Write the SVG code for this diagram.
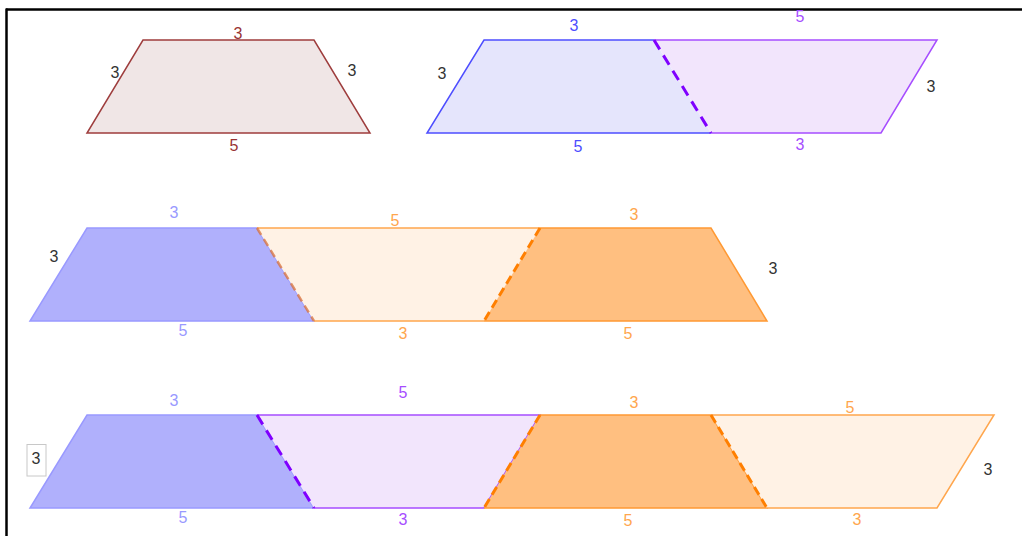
<svg xmlns="http://www.w3.org/2000/svg" width="1022" height="536" viewBox="0 0 1022 536">
<style>
text{font-family:"Liberation Sans",Arial,sans-serif;font-size:16px;text-anchor:middle}
.k{fill:#333333}
.r{fill:#993333}
.b{fill:#4d4dff}
.p{fill:#a64dff}
.lb{fill:#9999ff}
.o{fill:#ffa64d}
.dp{stroke:#7f00ff;stroke-width:3;stroke-dasharray:11 7;fill:none}
.do{stroke:#ff7f00;stroke-width:3;stroke-dasharray:9 5;fill:none}
.dbr{stroke:#d9733a;stroke-opacity:0.75;stroke-width:2.5;stroke-dasharray:8 5;fill:none}
</style>
<rect x="0" y="0" width="1022" height="536" fill="#ffffff"/>
<g id="frame" stroke="#000" stroke-width="2.5" fill="none">
<line x1="6" y1="9.5" x2="1022" y2="9.5"/>
<line x1="6.5" y1="8.5" x2="6.5" y2="536"/>
</g>

<g id="trap-top-left">
<polygon points="143,40 314,40 370,133 87,133" fill="#f0e6e6" stroke="#9e3d3d" stroke-width="1.5"/>
<text class="r" x="238" y="39">3</text>
<text class="k" x="115" y="78">3</text>
<text class="k" x="352" y="76">3</text>
<text class="r" x="234" y="151">5</text>
</g>

<g id="top-right-blue">
<polygon points="484,40 654,40 711,133 427,133" fill="#e5e5fc"/>
<polyline points="654,40 484,40 427,133 711,133" fill="none" stroke="#4d4dff" stroke-width="1.5"/>
<text class="b" x="574" y="31">3</text>
<text class="k" x="442" y="79">3</text>
<text class="b" x="578" y="152">5</text>
</g>
<g id="top-right-purple">
<polygon points="654,40 937,40 881,133 711,133" fill="#f2e5fc"/>
<polyline points="654,40 937,40 881,133 711,133" fill="none" stroke="#a64dff" stroke-width="1.5"/>
<text class="p" x="800" y="22">5</text>
<text class="k" x="931" y="92">3</text>
<text class="p" x="800" y="150">3</text>
</g>

<g id="mid-blue">
<polygon points="87,228 257,228 314,321 30,321" fill="#b0b0fc" stroke="#9999ff" stroke-width="1.5"/>
<text class="lb" x="174" y="218">3</text>
<text class="k" x="54" y="262">3</text>
<text class="lb" x="183" y="336">5</text>
</g>
<g id="mid-lightorange">
<polygon points="257,228 540,228 484,321 314,321" fill="#fff2e5"/>
<line x1="257" y1="228" x2="540" y2="228" stroke="#ffa64d" stroke-width="1.5"/>
<line x1="314" y1="321" x2="484" y2="321" stroke="#ffa64d" stroke-width="1.5"/>
<text class="o" x="395" y="226">5</text>
<text class="o" x="403" y="339">3</text>
</g>
<g id="mid-orange">
<polygon points="540,228 711,228 767,321 484,321" fill="#ffbf80"/>
<polyline points="540,228 711,228 767,321 484,321" fill="none" stroke="#ff9933" stroke-width="1.5"/>
<text class="o" x="634" y="220">3</text>
<text class="k" x="773" y="274">3</text>
<text class="o" x="628" y="339">5</text>
</g>

<g id="bot-blue">
<polygon points="87,415 257,415 314,508 30,508" fill="#b0b0fc" stroke="#9999ff" stroke-width="1.5"/>
<text class="lb" x="174" y="406">3</text>
<rect x="27" y="444.5" width="19" height="31.5" fill="#ffffff" stroke="#c8c8c8" stroke-width="1"/>
<text class="k" x="36" y="464">3</text>
<text class="lb" x="183" y="523">5</text>
</g>
<g id="bot-purple">
<polygon points="257,415 540,415 484,508 314,508" fill="#f2e5fc"/>
<polyline points="257,415 540,415 484,508 314,508" fill="none" stroke="#a64dff" stroke-width="1.5"/>
<text class="p" x="403" y="398">5</text>
<text class="p" x="403" y="525">3</text>
</g>
<g id="bot-orange">
<polygon points="540,415 711,415 767,508 484,508" fill="#ffbf80"/>
<polyline points="540,415 711,415 767,508 484,508" fill="none" stroke="#ff9933" stroke-width="1.5"/>
<text class="o" x="634" y="408">3</text>
<text class="o" x="628" y="526">5</text>
</g>
<g id="bot-lightorange">
<polygon points="711,415 994,415 937,508 767,508" fill="#fff2e5"/>
<polyline points="711,415 994,415 937,508 767,508" fill="none" stroke="#ffa64d" stroke-width="1.5"/>
<text class="o" x="850" y="413">5</text>
<text class="k" x="988" y="475">3</text>
<text class="o" x="857" y="525">3</text>
</g>

<g id="connectors">
<line class="dp" x1="654" y1="40" x2="711" y2="133"/>
<line class="dbr" x1="257" y1="228" x2="314" y2="321"/>
<line class="do" x1="540" y1="228" x2="484" y2="321"/>
<line class="dp" x1="257" y1="415" x2="314" y2="508"/>
<line class="do" x1="540" y1="415" x2="484" y2="508"/>
<line class="do" x1="711" y1="415" x2="767" y2="508"/>
</g>
</svg>
